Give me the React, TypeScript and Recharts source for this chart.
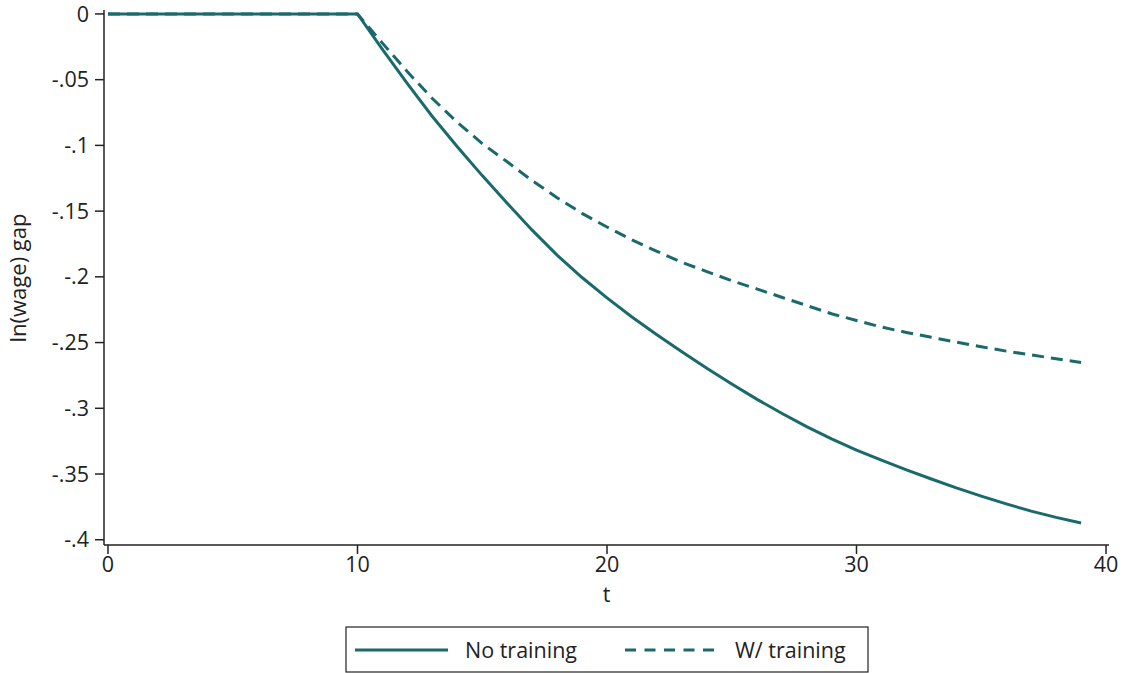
import { LineChart, Line, XAxis, YAxis, Label } from 'recharts'

// time index and log wage gap paths
const periods = Array.from({ length: 40 }, (_, i) => i)

const noTraining = [
  0, 0, 0, 0, 0, 0, 0, 0, 0, 0,
  0, -0.027, -0.053, -0.078, -0.101, -0.123, -0.144, -0.1645, -0.1835, -0.2005,
  -0.216, -0.2305, -0.244, -0.257, -0.2695, -0.2815, -0.293, -0.3038, -0.314, -0.3233,
  -0.3318, -0.3395, -0.3468, -0.3538, -0.3605, -0.3668, -0.3727, -0.3782, -0.383, -0.3873,
]

const withTraining = [
  0, 0, 0, 0, 0, 0, 0, 0, 0, 0,
  0, -0.0222, -0.044, -0.0643, -0.0825, -0.0986, -0.1125, -0.1268, -0.1398, -0.1517,
  -0.1621, -0.1719, -0.1806, -0.1889, -0.196, -0.2029, -0.2092, -0.2155, -0.2218, -0.2281,
  -0.2332, -0.2382, -0.2423, -0.246, -0.2497, -0.2532, -0.2565, -0.2594, -0.2623, -0.2651,
]

const xTicks = [0, 10, 20, 30, 40]
const yTicks = [0, -0.05, -0.1, -0.15, -0.2, -0.25, -0.3, -0.35, -0.4]

const data = periods.map((t, i) => ({
  t,
  noTraining: noTraining[i],
  withTraining: withTraining[i],
}))

const TEAL = '#1a6a6c'
const INK = '#222'
const FONT = '"Open Sans", "DejaVu Sans", sans-serif'
const FS = 21.5

// Stata-style labels: -.05, -.1, 0
const fmtY = (v: number) =>
  v === 0 ? '0' : v.toFixed(2).replace(/0+$/, '').replace('-0.', '-.')

function LegendBox() {
  return (
    <svg
      width={524}
      height={47}
      style={{ position: 'absolute', left: 345, top: 626, fontFamily: FONT }}
    >
      <rect x={1} y={1} width={522} height={45} fill="#fff" stroke={INK} strokeWidth={1.2} />
      <line x1={10} x2={103} y1={24} y2={24} stroke={TEAL} strokeWidth={3} />
      <text x={120} y={32} fontSize={FS} fill={INK}>No training</text>
      <line x1={280} x2={375} y1={24} y2={24} stroke={TEAL} strokeWidth={3} strokeDasharray="11 8.5" />
      <text x={390} y={32} fontSize={FS} fill={INK}>W/ training</text>
    </svg>
  )
}

export default function App() {
  return (
    <div style={{ position: 'absolute', left: 0, top: 0, width: 1124, height: 673, background: '#fff' }}>
      <LineChart
        width={1124}
        height={673}
        data={data}
        margin={{ top: 10, right: 15, bottom: 98, left: 0 }}
        style={{ fontFamily: FONT }}
      >
        <XAxis
          dataKey="t"
          type="number"
          domain={[-0.16, 40.12]}
          ticks={xTicks}
          allowDataOverflow
          height={30}
          tickSize={9}
          tickMargin={3}
          stroke={INK}
          strokeWidth={1.5}
          tick={{ fill: INK, fontSize: FS }}
        >
          <Label value="t" position="bottom" offset={12} fill={INK} fontSize={FS} />
        </XAxis>
        <YAxis
          type="number"
          domain={[-0.404, 0.003]}
          ticks={yTicks}
          allowDataOverflow
          width={104}
          tickSize={9}
          tickMargin={6}
          stroke={INK}
          strokeWidth={1.5}
          tickFormatter={fmtY}
          tick={{ fill: INK, fontSize: FS }}
        >
          <Label
            content={() => (
              <text
                x={26}
                y={278}
                transform="rotate(-90 26 278)"
                textAnchor="middle"
                fontSize={FS + 0.5}
                fill={INK}
                fontFamily={FONT}
              >
                ln(wage) gap
              </text>
            )}
          />
        </YAxis>
        <Line
          dataKey="noTraining"
          stroke={TEAL}
          strokeWidth={3}
          dot={false}
          isAnimationActive={false}
          type="linear"
        />
        <Line
          dataKey="withTraining"
          stroke={TEAL}
          strokeWidth={3}
          strokeDasharray="12 7"
          dot={false}
          isAnimationActive={false}
          type="linear"
        />
      </LineChart>
      <LegendBox />
    </div>
  )
}
